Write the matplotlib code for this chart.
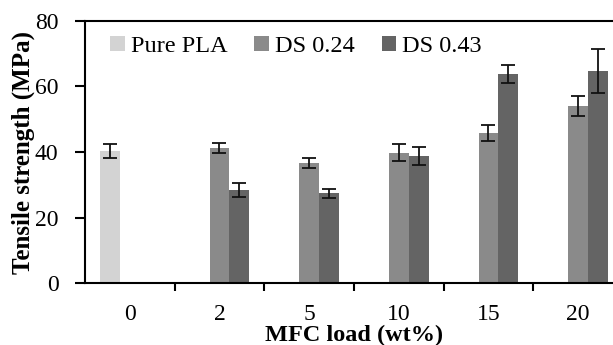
import matplotlib
matplotlib.use("Agg")
import matplotlib.pyplot as plt
import numpy as np

categories = ["0", "2", "5", "10", "15", "20"]
series_names = ["Pure PLA", "DS 0.24", "DS 0.43"]
pure_pla = [40.3, np.nan, np.nan, np.nan, np.nan, np.nan]
pure_pla_err = [2.1, 0, 0, 0, 0, 0]
ds024 = [np.nan, 41.3, 36.7, 39.8, 45.9, 54.0]
ds024_err = [0, 1.6, 1.5, 2.7, 2.4, 3.1]
ds043 = [np.nan, 28.4, 27.4, 38.7, 63.9, 64.7]
ds043_err = [0, 2.2, 1.3, 2.8, 2.7, 6.7]
colors = ["#d3d3d3", "#8a8a8a", "#646464"]

plt.rcParams['font.family'] = ['Liberation Serif', 'DejaVu Serif']

fig = plt.figure(figsize=(6.13, 3.45), dpi=100)
ax = fig.add_axes([85/613, 1-283/345, (623-85)/613, (283-21)/345])

x = np.arange(len(categories))
w = 0.223
data = [(pure_pla, pure_pla_err), (ds024, ds024_err), (ds043, ds043_err)]
for i, ((vals, errs), name, c) in enumerate(zip(data, series_names, colors)):
    off = (i - 1) * w
    ax.bar(x + off, vals, w, color=c, label=name, linewidth=0)
    v = np.array(vals, dtype=float)
    e = np.array(errs, dtype=float)
    mask = ~np.isnan(v)
    ax.errorbar((x + off)[mask], v[mask], yerr=e[mask], fmt='none',
                ecolor='#111111', elinewidth=1.3, capsize=4.7, capthick=1.3)

ax.set_xlim(-0.5, 5.5)
ax.set_ylim(0, 80)
ax.set_yticks([0, 20, 40, 60, 80])
ax.set_xticks(np.arange(0.5, 5.5, 1.0))
ax.set_xticklabels([])
ax.set_xticks(x, minor=True)
ax.set_xticklabels(categories, minor=True)
ax.tick_params(axis='x', which='major', direction='out', length=6, width=1.5)
ax.tick_params(axis='x', which='minor', length=0, pad=15, labelsize=17)
ax.tick_params(axis='y', direction='out', length=7, width=1.5, labelsize=17, pad=12)
for s in ['left', 'bottom', 'top']:
    ax.spines[s].set_linewidth(1.5)
ax.spines['right'].set_visible(False)

ax.set_xlabel("MFC load (wt%)", fontweight='bold', fontsize=17.5, labelpad=0)
ax.set_ylabel("Tensile strength (MPa)", fontweight='bold', fontsize=18, labelpad=0)

ax.legend(loc='upper left', ncol=3, frameon=False, fontsize=17.5,
          handlelength=0.6, handleheight=0.6, handletextpad=0.25,
          columnspacing=1.1, bbox_to_anchor=(0.02, 1.0), borderaxespad=0.2)

fig.savefig("out.png", dpi=100)
